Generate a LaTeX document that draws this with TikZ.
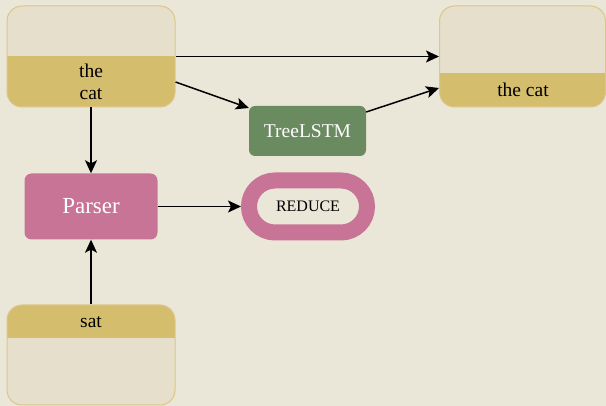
\documentclass[tikz,border=0pt]{standalone}
\usepackage{fontspec}
\setmainfont{Liberation Serif}
\usetikzlibrary{arrows.meta}
\definecolor{bg}{HTML}{EBE7D8}
\definecolor{lightbox}{HTML}{E5DFCB}
\definecolor{goldfill}{HTML}{D4BE6E}
\definecolor{goldline}{HTML}{DCC788}
\definecolor{pinkfill}{HTML}{C87496}
\definecolor{leaf}{HTML}{6A8A60}
\begin{document}
\begin{tikzpicture}[x=1pt,y=-1pt,
  memory/.style={draw=goldline, line width=1pt, fill=lightbox, rounded corners=15pt,
    minimum width=168pt, minimum height=101pt, inner sep=0pt},
  boxtext/.style={font=\fontsize{19.5}{22.5}\selectfont, align=center, inner sep=0pt},
  op/.style={rounded corners=7pt, inner sep=0pt, text=white},
  arr/.style={-{Stealth[length=13pt,width=12pt,inset=3pt]}, line width=1.5pt, black}]
\fill[bg] (0,0) rectangle (606,406);
\useasboundingbox (0,0) rectangle (606,406);

\node[memory, path picture={\fill[goldfill, sharp corners] (path picture bounding box.south west) rectangle ([yshift=51pt]path picture bounding box.south east);}] (tl) at (91,56.5) {};
\node[memory, minimum width=166pt, path picture={\fill[goldfill, sharp corners] (path picture bounding box.south west) rectangle ([yshift=34pt]path picture bounding box.south east);}] (tr) at (522.5,56.5) {};
\node[memory, minimum height=100pt, path picture={\fill[goldfill, sharp corners] (path picture bounding box.north west) rectangle ([yshift=-33pt]path picture bounding box.north east);}] (sat) at (91,355) {};

\node[boxtext] (tltext) at (91,82) {the\\cat};
\node[boxtext] (trtext) at (523,90) {the cat};
\node[boxtext] (sattext) at (91,322) {sat};

\node[op, fill=pinkfill, minimum width=133pt, minimum height=66pt,
  font=\fontsize{23}{26}\selectfont] (parser) at (91,206.5) {Parser};
\node[op, fill=leaf, rounded corners=6pt, minimum width=117pt, minimum height=50pt,
  font=\fontsize{19.5}{22}\selectfont] (tree) at (307.5,131) {TreeLSTM};
\node[draw=pinkfill, line width=16pt, fill=bg, rounded corners=26pt,
  minimum width=118pt, minimum height=52pt, inner sep=0pt,
  font=\fontsize{16}{18}\selectfont] (reduce) at (308,206.5) {REDUCE};

\draw[arr] (tl.east) -- (tr.west);
\draw[arr] ([yshift=-25.5pt]tl.east) -- ([yshift=23pt]tree.west);
\draw[arr] ([yshift=19pt]tree.east) -- ([yshift=-31.5pt]tr.west);
\draw[arr] (tl.south) -- (parser.north);
\draw[arr] (sat.north) -- (parser.south);
\draw[arr] (parser.east) -- (reduce.west);
\end{tikzpicture}
\end{document}
